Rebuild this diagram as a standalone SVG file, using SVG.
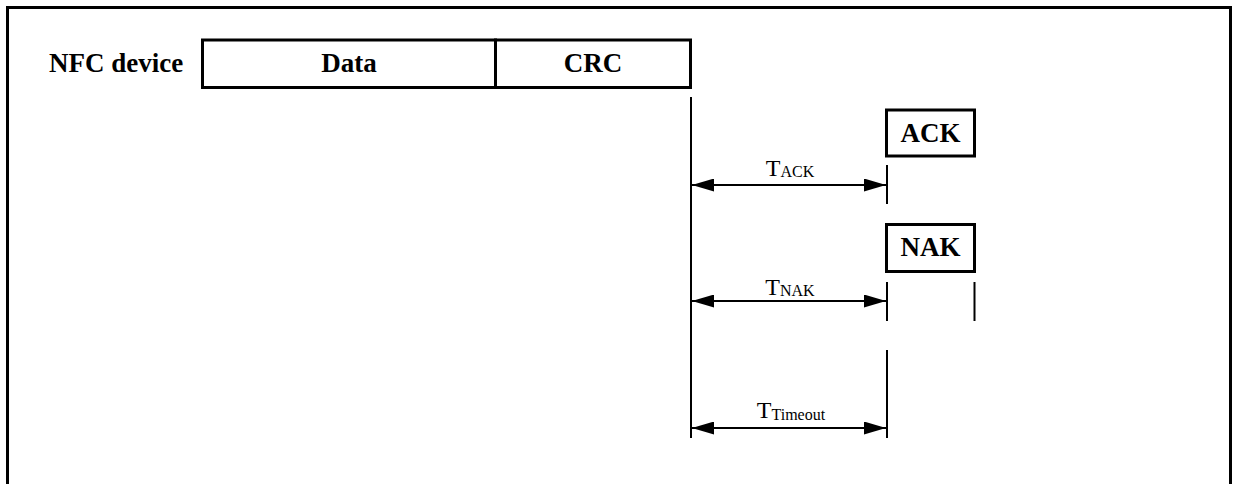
<svg xmlns="http://www.w3.org/2000/svg" width="1236" height="484" viewBox="0 0 1236 484">
<style>
.box{fill:#fff;stroke:#000;stroke-width:3}
.lbl{font-family:"Liberation Serif","Times New Roman",serif;font-weight:bold;font-size:27px;fill:#000;text-anchor:middle}
.ln{stroke:#000;stroke-width:2;fill:none}
.t{font-family:"Liberation Serif","Times New Roman",serif;font-size:24px;fill:#000;text-anchor:middle}
.sub{font-size:16px}
</style>
<defs>
<marker id="ah" viewBox="0 0 22 13" refX="22" refY="6.5" markerWidth="22" markerHeight="13" markerUnits="userSpaceOnUse" orient="auto-start-reverse">
<path d="M0,0 L22,6.5 L0,13 Z" fill="#000"/>
</marker>
</defs>
<rect x="0" y="0" width="1236" height="484" fill="#fff"/>
<rect id="frame" x="7.5" y="7.5" width="1223" height="490" fill="none" stroke="#000" stroke-width="3"/>
<g id="nfc-label"><text class="lbl" x="49" y="72" text-anchor="start" style="text-anchor:start">NFC device</text></g>
<g id="data"><rect class="box" x="202.5" y="40" width="293" height="47.5"/><text class="lbl" x="349" y="72">Data</text></g>
<g id="crc"><rect class="box" x="495.5" y="40" width="195" height="47.5"/><text class="lbl" x="593" y="72">CRC</text></g>
<g id="ack"><rect class="box" x="886.5" y="110" width="88" height="46"/><text class="lbl" x="930.5" y="142">ACK</text></g>
<g id="nak"><rect class="box" x="886.5" y="224.5" width="88" height="47"/><text class="lbl" x="930.5" y="256">NAK</text></g>
<g id="connectors">
<line class="ln" x1="691" y1="97" x2="691" y2="438"/>
<line class="ln" x1="887" y1="165" x2="887" y2="204"/>
<line class="ln" x1="887" y1="282" x2="887" y2="321"/>
<line class="ln" x1="974.5" y1="282" x2="974.5" y2="321"/>
<line class="ln" x1="887" y1="350" x2="887" y2="438"/>
<line class="ln" x1="692" y1="185" x2="886" y2="185" marker-start="url(#ah)" marker-end="url(#ah)"/>
<line class="ln" x1="692" y1="301" x2="886" y2="301" marker-start="url(#ah)" marker-end="url(#ah)"/>
<line class="ln" x1="692" y1="428" x2="886" y2="428" marker-start="url(#ah)" marker-end="url(#ah)"/>
</g>
<g id="labels">
<text class="t" x="790" y="176">T<tspan class="sub" dy="1">ACK</tspan></text>
<text class="t" x="790" y="295">T<tspan class="sub" dy="1">NAK</tspan></text>
<text class="t" x="791" y="418">T<tspan class="sub" dy="2">Timeout</tspan></text>
</g>
</svg>
